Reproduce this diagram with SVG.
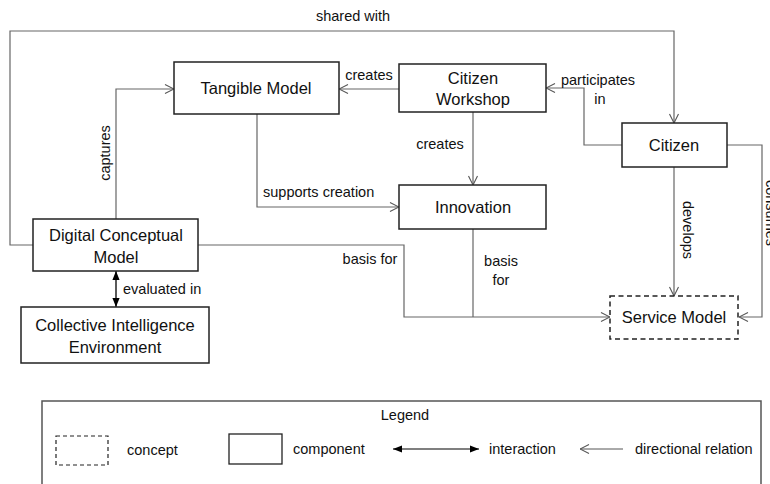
<svg xmlns="http://www.w3.org/2000/svg" width="770" height="484" viewBox="0 0 770 484">
<style>
.box{fill:#fff;stroke:#222;stroke-width:1.5}
.concept{fill:#fff;stroke:#222;stroke-width:1.5;stroke-dasharray:5 3.5}
.conn{fill:none;stroke:#666;stroke-width:1.2}
.node{font-family:"Liberation Sans",Arial,sans-serif;font-size:16.5px;fill:#111;text-anchor:middle;dominant-baseline:central}
.lbl{font-family:"Liberation Sans",Arial,sans-serif;font-size:14.5px;fill:#111;dominant-baseline:central}
.leg{font-family:"Liberation Sans",Arial,sans-serif;font-size:14.5px;fill:#111;dominant-baseline:central}
</style>
<defs>
<marker id="open" viewBox="0 0 10 10" refX="10" refY="5" markerWidth="10" markerHeight="10" markerUnits="userSpaceOnUse" orient="auto">
<path d="M1,0.5 L10,5 L1,9.5" fill="none" stroke="#555" stroke-width="1.1"/>
</marker>
<marker id="solid" viewBox="0 0 10 10" refX="10" refY="5" markerWidth="9" markerHeight="9" markerUnits="userSpaceOnUse" orient="auto-start-reverse">
<path d="M0,1 L10,5 L0,9 z" fill="#000"/>
</marker>
</defs>

<g id="connectors">
<path class="conn" d="M33,245 H10 V31 H674 V123" marker-end="url(#open)"/>
<path class="conn" d="M116,219 V89 H174" marker-end="url(#open)"/>
<path class="conn" d="M399,89 H339" marker-end="url(#open)"/>
<path class="conn" d="M257,114 V207 H399" marker-end="url(#open)"/>
<path class="conn" d="M473,112 V185" marker-end="url(#open)"/>
<path class="conn" d="M622,145 H584 V88 H546" marker-end="url(#open)"/>
<path class="conn" d="M674,167 V296" marker-end="url(#open)"/>
<path class="conn" d="M727,145 H762 V317 H739" marker-end="url(#open)"/>
<path class="conn" d="M198,245 H404 V317 H610" marker-end="url(#open)"/>
<path class="conn" d="M473,229 V317"/>
<path d="M116,271 V307" fill="none" stroke="#000" stroke-width="1.3" marker-start="url(#solid)" marker-end="url(#solid)"/>
<text class="lbl" x="353" y="16" text-anchor="middle">shared with</text>
<text class="lbl" x="105" y="153" text-anchor="middle" transform="rotate(-90 105 153)">captures</text>
<text class="lbl" x="369" y="75" text-anchor="middle">creates</text>
<text class="lbl" x="263" y="192">supports creation</text>
<text class="lbl" x="440" y="144" text-anchor="middle">creates</text>
<text class="lbl" x="598" y="80" text-anchor="middle">participates</text>
<text class="lbl" x="600" y="99" text-anchor="middle">in</text>
<text class="lbl" x="688" y="230" text-anchor="middle" transform="rotate(90 688 230)">develops</text>
<text class="lbl" x="771" y="213" text-anchor="middle" transform="rotate(90 771 213)">consumes</text>
<text class="lbl" x="370" y="259" text-anchor="middle">basis for</text>
<text class="lbl" x="501" y="261" text-anchor="middle">basis</text>
<text class="lbl" x="501" y="280" text-anchor="middle">for</text>
<text class="lbl" x="123" y="289">evaluated in</text>
</g>

<g id="tangible-model">
<rect class="box" x="174" y="62" width="165" height="52"/>
<text class="node" x="256" y="88">Tangible Model</text>
</g>
<g id="citizen-workshop">
<rect class="box" x="399" y="64" width="147" height="48"/>
<text class="node" x="473" y="78">Citizen</text>
<text class="node" x="473" y="99">Workshop</text>
</g>
<g id="innovation">
<rect class="box" x="399" y="185" width="147" height="44"/>
<text class="node" x="473" y="207">Innovation</text>
</g>
<g id="citizen">
<rect class="box" x="622" y="123" width="105" height="44"/>
<text class="node" x="674" y="145">Citizen</text>
</g>
<g id="digital-conceptual-model">
<rect class="box" x="33" y="219" width="165" height="52"/>
<text class="node" x="116" y="235">Digital Conceptual</text>
<text class="node" x="116" y="257">Model</text>
</g>
<g id="collective-intelligence-environment">
<rect class="box" x="21" y="307" width="188" height="56"/>
<text class="node" x="115" y="325">Collective Intelligence</text>
<text class="node" x="115" y="347">Environment</text>
</g>
<g id="service-model">
<rect class="concept" x="610" y="296" width="128" height="43"/>
<text class="node" x="674" y="317">Service Model</text>
</g>

<g id="legend">
<rect x="42" y="401" width="719" height="95" fill="none" stroke="#555" stroke-width="1.5"/>
<text class="leg" x="405" y="415" text-anchor="middle" font-size="13.5">Legend</text>
<rect x="56" y="436" width="52" height="29" fill="none" stroke="#222" stroke-width="1.2" stroke-dasharray="4 3"/>
<text class="leg" x="127" y="450">concept</text>
<rect x="229" y="434" width="53" height="30" fill="none" stroke="#222" stroke-width="1.3"/>
<text class="leg" x="293" y="449">component</text>
<path d="M393,449 H479" fill="none" stroke="#000" stroke-width="1.2" marker-start="url(#solid)" marker-end="url(#solid)"/>
<text class="leg" x="489" y="449">interaction</text>
<path d="M623,449 H580" fill="none" stroke="#555" stroke-width="1" marker-end="url(#open)"/>
<text class="leg" x="635" y="449">directional relation</text>
</g>
</svg>
